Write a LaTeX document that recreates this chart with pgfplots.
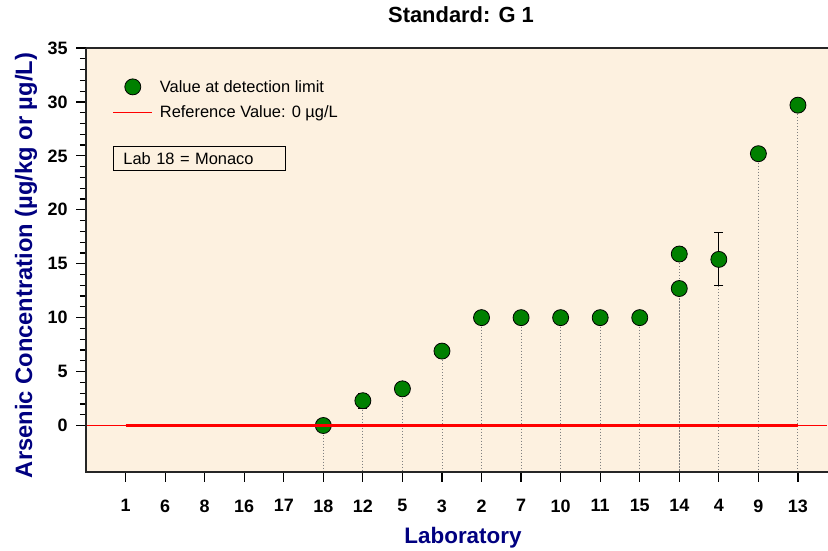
\documentclass[border=0pt]{standalone}
\usepackage{pgfplots}
\pgfplotsset{compat=1.18}
\usepackage{fontspec}
\setmainfont{Liberation Sans}
\definecolor{bgc}{RGB}{253,241,224}
\definecolor{ptgreen}{RGB}{0,128,0}
\definecolor{navyc}{RGB}{0,0,128}
\definecolor{refred}{RGB}{255,0,0}
\begin{document}
\begin{tikzpicture}
\begin{axis}[
  scale only axis, width=742bp, height=424bp,
  xmin=0, xmax=18.76, ymin=-4.31, ymax=35,
  axis background/.style={fill=bgc},
  axis line style={draw=none},
  clip mode=individual,
  xtick={1,...,18},
  xticklabels={1,6,8,16,17,18,12,5,3,2,7,10,11,15,14,4,9,13},
  ytick={0,5,...,35},
  minor y tick num=4,
  xtick pos=left, ytick pos=left,
  tick align=outside,
  major tick length=10bp, minor tick length=6bp,
  every tick/.style={black, line width=1.2pt},
  minor tick style={black, line width=1.2pt},
  ticklabel style={font=\fontsize{18}{20}\selectfont\bfseries},
  xticklabel style={yshift=-14bp},
  yticklabel style={xshift=-5bp},
  /pgf/number format/assume math mode=true,
  title={Standard: G 1},
  title style={font=\fontsize{22}{26}\selectfont\bfseries, at={([yshift=27.5bp,xshift=4bp]axis description cs:0.5,1)}, anchor=center},
  xlabel={Laboratory},
  xlabel style={font=\fontsize{22.5}{26}\selectfont\bfseries, text=navyc, at={([yshift=-66bp,xshift=6bp]axis description cs:0.5,0)}, anchor=center},
  ylabel={Arsenic Concentration (µg/kg or µg/L)},
  ylabel style={font=\fontsize{23.8}{26}\selectfont\bfseries, text=navyc, at={([xshift=-60bp,yshift=-5.5bp]axis description cs:0,0.5)}, anchor=center},
  legend style={at={([xshift=26.5bp,yshift=-30bp]axis description cs:0,1)}, anchor=north west, draw=none, fill=none, inner sep=0pt, font=\fontsize{16.5}{19}\selectfont, row sep=8.5bp, column sep=5bp},
  legend cell align=left,
  legend image code/.code={\draw[mark repeat=2,mark phase=2,#1] plot coordinates {(0bp,0bp) (19.5bp,0bp) (39bp,0bp)};},
]
% drop lines
\addplot[forget plot, draw=none, mark=none,
  error bars/.cd, y dir=minus, y fixed=50, error mark=none,
  error bar style={draw=gray, line width=0.9pt, dash pattern=on 1bp off 2bp}]
  table {
x y
6 0
7 2.3
8 3.4
9 6.9
10 10
11 10
12 10
13 10
14 10
15 15.9
15 12.7
16 15.4
17 25.2
18 29.7
};
% measurement error bars
\addplot[forget plot, draw=none, mark=none,
  error bars/.cd, y dir=both, y explicit, error mark=-,
  error mark options={black, line width=1pt, mark size=4.5bp, rotate=90},
  error bar style={draw=black, solid, line width=1.2pt}]
  table[y error=ey] {
x y ey
7 2.3 0.7
16 15.4 2.45
};
% values
\addplot[only marks, mark=*, mark size=8bp, mark options={fill=ptgreen, draw=black, line width=0.8pt}]
  table {
x y
6 0
7 2.3
8 3.4
9 6.9
10 10
11 10
12 10
13 10
14 10
15 15.9
15 12.7
16 15.4
17 25.2
18 29.7
};
\addlegendentry{Value at detection limit}
\addlegendimage{draw=refred, line width=1.2pt, mark=none}
\addlegendentry{Reference Value: 0 µg/L}
\addplot[forget plot, color=refred, draw=refred, solid, line width=1.5pt, mark=none] coordinates {(0.03,0) (1.2,0)};
\addplot[forget plot, color=refred, draw=refred, solid, line width=1.5pt, mark=none] coordinates {(17.8,0) (18.73,0)};
\addplot[forget plot, draw=refred, line width=2.6pt, mark=none] coordinates {(1,0) (18,0)};
% frame
\draw[black!85, line width=1.5pt] (rel axis cs:0,1) -- (rel axis cs:0,0) -- (rel axis cs:1,0);
\draw[black!85, line width=1.5pt] (rel axis cs:0,1) -- (rel axis cs:1,1);
\node[draw=black, line width=0.8pt, fill=bgc, anchor=north west, text width=152bp, inner xsep=10bp, minimum height=24bp, align=left, font=\fontsize{16.5}{19}\selectfont]
  at ([xshift=27bp, yshift=-98bp]rel axis cs:0,1) {Lab 18 = Monaco};
\coordinate (SW) at (rel axis cs:0,0);
\end{axis}
\pgfresetboundingbox
\path[use as bounding box] ([xshift=-86bp,yshift=-79bp]SW) rectangle ++(828bp,551bp);
\end{tikzpicture}
\end{document}
